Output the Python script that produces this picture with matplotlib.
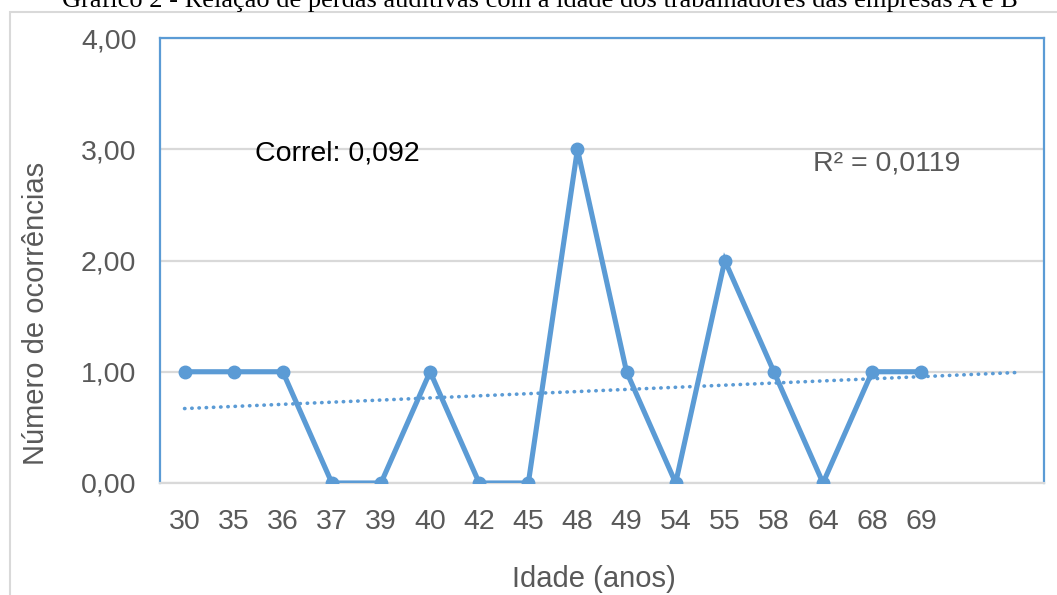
import numpy as np
import matplotlib
matplotlib.use("Agg")
import matplotlib.pyplot as plt
from matplotlib.patches import Rectangle

idades = ["30", "35", "36", "37", "39", "40", "42", "45",
          "48", "49", "54", "55", "58", "64", "68", "69"]
ocorrencias = [1, 1, 1, 0, 0, 1, 0, 0, 3, 1, 0, 2, 1, 0, 1, 1]
n_extra = 2  # empty categories the trend line is carried into

BLUE = "#5B9BD5"
GRAY_TXT = "#595959"
GRID = "#D9D9D9"

W, H = 1057, 595
fig = plt.figure(figsize=(W / 100, H / 100), dpi=100)

# outer chart border (runs off the right/bottom edge)
fig.patches.append(Rectangle((10 / W, -0.1), 1.2, 1 - 12 / H + 0.1,
                             transform=fig.transFigure, fill=False,
                             edgecolor=GRID, linewidth=1.5))

ax = fig.add_axes([160 / W, (H - 483) / H, (1044 - 160) / W, (483 - 38) / H])

x = np.arange(len(ocorrencias))
ax.plot(x, ocorrencias, color=BLUE, linewidth=3.7, marker="o",
        markersize=9, solid_joinstyle="miter", zorder=3)

# linear trend line, forward 2 periods like Excel
coef = np.polyfit(x, ocorrencias, 1)
xt = np.arange(len(ocorrencias) + n_extra)
ax.plot(xt, np.polyval(coef, xt), color=BLUE, linewidth=2.6,
        linestyle=(0, (0.1, 1.9)), dash_capstyle="round", zorder=2)

ax.set_xlim(-0.5, len(ocorrencias) + n_extra - 0.5)
ax.set_ylim(0, 4)
ax.set_yticks([0, 1, 2, 3, 4])
ax.set_yticklabels(["0,00", "1,00", "2,00", "3,00", "4,00"])
ax.set_xticks(x)
ax.set_xticklabels(idades)
ax.tick_params(axis="both", length=0, labelsize=20.5, labelcolor=GRAY_TXT)
ax.tick_params(axis="y", pad=17)
ax.tick_params(axis="x", pad=19)
for lab in ax.get_xticklabels() + ax.get_yticklabels():
    lab.set_family("Liberation Sans")

ax.yaxis.grid(True, color=GRID, linewidth=1.6)
ax.set_axisbelow(True)
for side in ["left", "right", "top"]:
    ax.spines[side].set_color(BLUE)
    ax.spines[side].set_linewidth(1.6)
ax.spines["bottom"].set_color(GRID)
ax.spines["bottom"].set_linewidth(1.6)

ax.text(337 / W, 1 - 154 / H, "Correl: 0,092", transform=fig.transFigure,
        ha="center", va="center", fontsize=20.5, color="black",
        family="Liberation Sans")
ax.text(887 / W, 1 - 164 / H, "R² = 0,0119", transform=fig.transFigure,
        ha="center", va="center", fontsize=20.5, color=GRAY_TXT,
        family="Liberation Sans")

fig.text(594 / W, 1 - 579 / H, "Idade (anos)", ha="center", va="center",
         fontsize=21, color=GRAY_TXT, family="Liberation Sans")
fig.text(36 / W, 1 - 313 / H, "Número de ocorrências", ha="center",
         va="center", rotation=90, fontsize=21, color=GRAY_TXT,
         family="Liberation Sans")

fig.text(540 / W, 1 - 7 / H,
         "Gráfico 2 - Relação de perdas auditivas com a idade dos trabalhadores das empresas A e B",
         ha="center", va="baseline", fontsize=19, color="black",
         family="Liberation Serif")

fig.savefig("out.png", dpi=100)
